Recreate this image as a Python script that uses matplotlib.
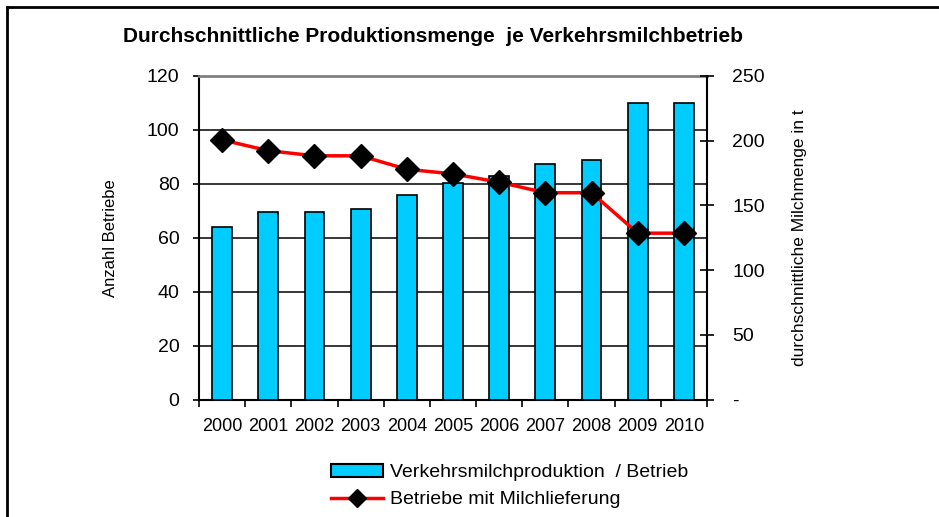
import numpy as np
import matplotlib.pyplot as plt
from matplotlib.ticker import FixedLocator, FuncFormatter, MultipleLocator
from matplotlib.lines import Line2D
from matplotlib.patches import Patch

years = ["2000", "2001", "2002", "2003", "2004", "2005",
         "2006", "2007", "2008", "2009", "2010"]
milk_per_farm = [133, 145, 145, 147.5, 158, 167, 173, 182, 185, 229.5, 229.5]
farms = [96.3, 92.3, 90.4, 90.4, 85.4, 83.7, 80.6, 76.7, 76.7, 61.7, 61.7]

plt.rcParams['font.family'] = ['Liberation Sans', 'DejaVu Sans']

fig = plt.figure(figsize=(9.39, 5.17), dpi=100)
x = np.arange(len(years))

# base axes: left scale, grid
ax = fig.add_axes([199 / 939, 117.5 / 517, 508 / 939, 323.5 / 517])
ax.set_xlim(-0.5, len(years) - 0.5)
ax.set_ylim(0, 120)
ax.yaxis.set_major_locator(MultipleLocator(20))
ax.grid(axis="y", color="black", linewidth=1.1)
ax.set_axisbelow(True)
ax.tick_params(axis="y", direction="out", length=4, width=1.2, labelsize=14, pad=10)
ax.set_xticks(x)
ax.set_xticklabels(years)
ax.xaxis.set_minor_locator(FixedLocator(np.arange(-0.5, len(years), 1.0)))
ax.tick_params(axis="x", which="major", length=0, labelsize=13, pad=13)
ax.tick_params(axis="x", which="minor", direction="out", length=5, width=1.2)
for s in ["left", "bottom"]:
    ax.spines[s].set_linewidth(1.5)
ax.spines["top"].set_color("#808080")
ax.spines["top"].set_linewidth(2)
ax.spines["right"].set_visible(False)
ax.set_ylabel("Anzahl Betriebe", fontsize=12, labelpad=21)

# bars on right scale
axb = ax.twinx()
axb.bar(x, milk_per_farm, width=0.43, color="#00CCFF", edgecolor="black", linewidth=1.2)
axb.set_ylim(0, 250)
axb.yaxis.set_major_locator(MultipleLocator(50))
axb.yaxis.set_major_formatter(FuncFormatter(lambda v, p: "-" if v == 0 else f"{v:.0f}"))
axb.tick_params(axis="y", direction="inout", length=10, width=1.2, labelsize=14, pad=13)
axb.spines["right"].set_linewidth(1.5)
for s in ["left", "bottom", "top"]:
    axb.spines[s].set_visible(False)
axb.set_ylabel("durchschnittliche Milchmenge in t", fontsize=12.5, labelpad=20)

# line on left scale
axl = ax.twinx()
axl.set_ylim(0, 120)
axl.plot(x, farms, color="red", linewidth=2.5, marker="D", markersize=12,
         markerfacecolor="black", markeredgecolor="black", clip_on=False)
axl.set_yticks([])
for s in axl.spines.values():
    s.set_visible(False)

fig.text(433 / 939, 1 - 36 / 517, "Durchschnittliche Produktionsmenge  je Verkehrsmilchbetrieb",
         ha="center", va="center", fontsize=15, fontweight="bold")

handles = [Patch(facecolor="#00CCFF", edgecolor="black", linewidth=1.5),
           Line2D([], [], color="red", linewidth=2.5, marker="D", markersize=9,
                  markerfacecolor="black", markeredgecolor="black")]
labels = ["Verkehrsmilchproduktion  / Betrieb", "Betriebe mit Milchlieferung"]
fig.legend(handles, labels, loc="center left", bbox_to_anchor=(321 / 939, 1 - 486 / 517),
           frameon=False, fontsize=14, handlelength=2.7, handleheight=0.7,
           handletextpad=0.35, labelspacing=0.5, borderpad=0)

# outer frame lines (top and left)
fig.add_artist(Line2D([7 / 939, 1], [1 - 7 / 517, 1 - 7 / 517], color="black", linewidth=2,
                      transform=fig.transFigure))
fig.add_artist(Line2D([7 / 939, 7 / 939], [0, 1 - 7 / 517], color="black", linewidth=2,
                      transform=fig.transFigure))

plt.savefig("out.png", dpi=100)
